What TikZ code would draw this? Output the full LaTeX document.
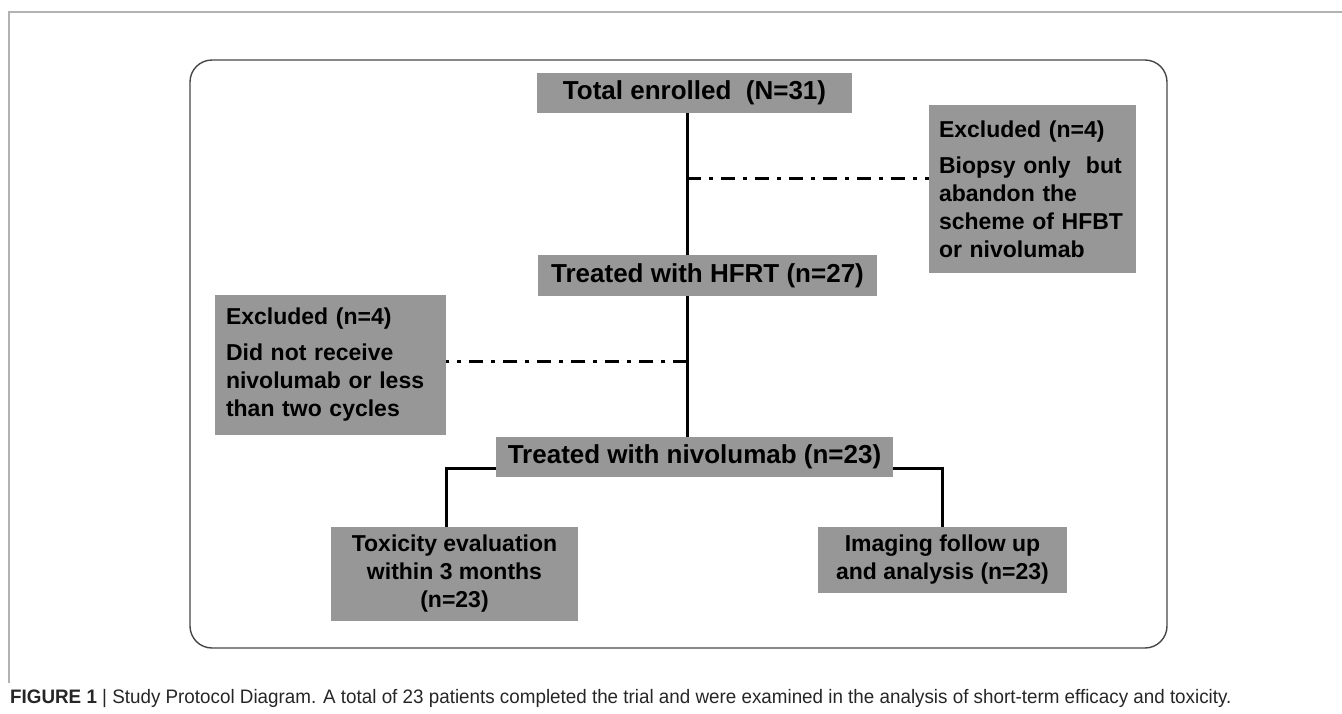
\documentclass[tikz,border=0pt]{standalone}
\usepackage{fontspec}
\setmainfont{Liberation Sans}
\newfontfamily\capfont[FakeStretch=0.965]{Liberation Sans}
\definecolor{boxgray}{RGB}{151,151,151}
\definecolor{framegray}{RGB}{70,70,70}
\definecolor{pagegray}{RGB}{178,178,178}

\begin{document}
\begin{tikzpicture}[x=1pt, y=-1pt,
	mainbox/.style={fill=boxgray, inner sep=0pt, text=black, font=\bfseries\fontsize{26}{30}\selectfont},
	sidebox/.style={fill=boxgray, inner sep=0pt, text=black, align=left, font=\bfseries\fontsize{23}{28}\selectfont},
	endbox/.style={fill=boxgray, inner sep=0pt, text=black, align=center, font=\bfseries\fontsize{23}{28}\selectfont},
	flow/.style={line width=3pt},
	dropout/.style={line width=3pt, dash pattern=on 14pt off 8pt on 4pt off 8pt}]
	\useasboundingbox (0,0) rectangle (1342,713);
	% page rules and outer frame
	\draw[pagegray, line width=1.3pt] (9,683) -- (9,12) -- (1342,12);
	\draw[framegray, line width=1.4pt, rounded corners=22pt] (190,60) rectangle (1167,648);
	% boxes
	\node[mainbox, minimum width=315pt, minimum height=40pt] (total) at (694.5,93) {Total enrolled\ \ (N=31)};
	\node[mainbox, minimum width=339pt, minimum height=41pt] (hfrt) at (707.5,275.5) {Treated with HFRT (n=27)};
	\node[mainbox, minimum width=397pt, minimum height=40pt] (nivo) at (694.5,457) {Treated with nivolumab (n=23)};
	\node[sidebox, minimum width=207pt, minimum height=168pt, text width=187pt] (exclA) at (1032.5,189)
		{Excluded (n=4)\\[8pt]Biopsy only\ \ but\\abandon the\\scheme of HFBT\\or nivolumab};
	\node[sidebox, minimum width=231pt, minimum height=140pt, text width=209pt] (exclB) at (330.5,365)
		{Excluded (n=4)\\[8pt]Did not receive\\nivolumab or less\\than two cycles};
	\node[endbox, minimum width=247pt, minimum height=94pt] (tox) at (454.5,574)
		{Toxicity evaluation\\within 3 months\\(n=23)};
	\node[endbox, minimum width=249pt, minimum height=66pt] (img) at (942.5,560)
		{Imaging follow up\\and analysis (n=23)};
	% main line
	\coordinate (spine) at (687,0);
	\draw[flow] (total.south -| spine) -- (hfrt.north -| spine);
	\draw[flow] (hfrt.south -| spine) -- (nivo.north -| spine);
	% dropouts
	\coordinate (outA) at (687,178);
	\coordinate (outB) at (687,361);
	\draw[dropout] (outA) -- (outA -| exclA.west);
	\draw[dropout] (outB) -- (outB -| exclB.east);
	% split to the two end boxes
	\draw[flow] ([yshift=-11pt]nivo.west) -| ([xshift=-8.5pt]tox.north);
	\draw[flow] ([yshift=-11pt]nivo.east) -| (img.north);
	% caption
	\node[anchor=base west, inner sep=0pt, text=black!85, font=\capfont\fontsize{19.5}{22}\selectfont] (caption) at (10,703)
		{\textbf{FIGURE 1} | Study Protocol Diagram. A total of 23 patients completed the trial and were examined in the analysis of short-term efficacy and toxicity.};
\end{tikzpicture}
\end{document}
